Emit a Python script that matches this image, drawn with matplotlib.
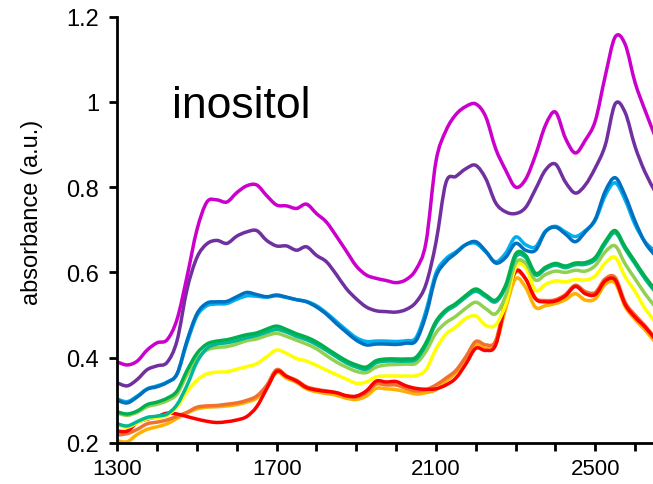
import matplotlib
matplotlib.use("Agg")
import matplotlib.pyplot as plt
from matplotlib.path import Path
from matplotlib.patches import PathPatch
import numpy as np

plt.rcParams['font.family'] = ['Liberation Sans', 'DejaVu Sans']

wavelength = list(range(1300, 2651, 25))

magenta = [0.390, 0.383, 0.392, 0.418, 0.435, 0.442, 0.490, 0.590, 0.700, 0.765,
           0.770, 0.765, 0.787, 0.803, 0.805, 0.780, 0.758, 0.756, 0.750, 0.760,
           0.738, 0.718, 0.685, 0.650, 0.615, 0.594, 0.586, 0.581, 0.576, 0.583,
           0.607, 0.670, 0.860, 0.932, 0.970, 0.989, 0.995, 0.965, 0.890, 0.840,
           0.800, 0.818, 0.875, 0.945, 0.976, 0.915, 0.880, 0.910, 0.955, 1.060,
           1.152, 1.135, 1.045, 0.980, 0.920]
purple = [0.341, 0.334, 0.349, 0.372, 0.381, 0.389, 0.440, 0.560, 0.635, 0.667,
          0.675, 0.668, 0.685, 0.695, 0.698, 0.675, 0.662, 0.662, 0.652, 0.660,
          0.640, 0.625, 0.595, 0.562, 0.538, 0.519, 0.510, 0.508, 0.507, 0.513,
          0.530, 0.572, 0.670, 0.810, 0.825, 0.843, 0.851, 0.820, 0.763, 0.742,
          0.738, 0.752, 0.795, 0.840, 0.854, 0.812, 0.786, 0.805, 0.845, 0.898,
          0.995, 0.975, 0.895, 0.835, 0.790]
dark_blue = [0.300, 0.294, 0.308, 0.326, 0.332, 0.342, 0.362, 0.440, 0.503, 0.528,
             0.531, 0.532, 0.543, 0.553, 0.548, 0.543, 0.547, 0.542, 0.536, 0.531,
             0.519, 0.502, 0.480, 0.460, 0.441, 0.430, 0.432, 0.432, 0.431, 0.434,
             0.440, 0.500, 0.590, 0.625, 0.645, 0.665, 0.672, 0.650, 0.622, 0.635,
             0.668, 0.652, 0.652, 0.695, 0.706, 0.690, 0.672, 0.695, 0.725, 0.790,
             0.822, 0.780, 0.720, 0.670, 0.640]
light_blue = [0.303, 0.297, 0.310, 0.327, 0.334, 0.343, 0.362, 0.435, 0.498, 0.522,
              0.526, 0.527, 0.537, 0.545, 0.544, 0.542, 0.545, 0.541, 0.536, 0.532,
              0.522, 0.505, 0.485, 0.465, 0.447, 0.438, 0.439, 0.439, 0.438, 0.440,
              0.447, 0.510, 0.598, 0.632, 0.648, 0.665, 0.668, 0.648, 0.625, 0.645,
              0.683, 0.665, 0.660, 0.697, 0.708, 0.695, 0.684, 0.698, 0.722, 0.780,
              0.810, 0.770, 0.712, 0.672, 0.650]
green = [0.273, 0.268, 0.275, 0.290, 0.296, 0.305, 0.322, 0.370, 0.410, 0.432,
         0.439, 0.442, 0.448, 0.454, 0.458, 0.467, 0.474, 0.466, 0.456, 0.448,
         0.437, 0.422, 0.407, 0.393, 0.383, 0.378, 0.393, 0.397, 0.397, 0.397,
         0.401, 0.435, 0.485, 0.512, 0.527, 0.546, 0.561, 0.547, 0.535, 0.570,
         0.643, 0.640, 0.598, 0.612, 0.621, 0.615, 0.622, 0.623, 0.635, 0.672,
         0.698, 0.660, 0.625, 0.590, 0.560]
teal = [0.245, 0.240, 0.250, 0.260, 0.263, 0.268, 0.290, 0.335, 0.390, 0.422,
        0.432, 0.435, 0.440, 0.447, 0.452, 0.460, 0.466, 0.460, 0.450, 0.442,
        0.431, 0.417, 0.402, 0.388, 0.378, 0.373, 0.388, 0.392, 0.392, 0.392,
        0.396, 0.430, 0.480, 0.508, 0.523, 0.542, 0.556, 0.543, 0.531, 0.566,
        0.636, 0.635, 0.594, 0.608, 0.617, 0.611, 0.618, 0.619, 0.630, 0.667,
        0.693, 0.655, 0.620, 0.585, 0.555]
light_green = [0.270, 0.265, 0.272, 0.285, 0.291, 0.299, 0.315, 0.360, 0.398, 0.418,
               0.424, 0.426, 0.432, 0.440, 0.444, 0.452, 0.457, 0.450, 0.441, 0.432,
               0.421, 0.405, 0.390, 0.378, 0.368, 0.365, 0.378, 0.383, 0.384, 0.385,
               0.387, 0.415, 0.458, 0.482, 0.497, 0.516, 0.530, 0.515, 0.503, 0.545,
               0.622, 0.622, 0.582, 0.595, 0.603, 0.600, 0.605, 0.603, 0.616, 0.648,
               0.662, 0.620, 0.585, 0.550, 0.520]
yellow = [0.242, 0.237, 0.247, 0.257, 0.260, 0.265, 0.285, 0.320, 0.347, 0.362,
          0.366, 0.367, 0.373, 0.379, 0.386, 0.402, 0.418, 0.410, 0.398, 0.392,
          0.382, 0.371, 0.360, 0.350, 0.340, 0.343, 0.355, 0.357, 0.357, 0.357,
          0.358, 0.372, 0.420, 0.455, 0.472, 0.492, 0.498, 0.476, 0.477, 0.525,
          0.612, 0.612, 0.558, 0.572, 0.580, 0.578, 0.583, 0.582, 0.592, 0.622,
          0.635, 0.590, 0.555, 0.515, 0.485]
red = [0.228, 0.228, 0.248, 0.256, 0.262, 0.270, 0.268, 0.262, 0.256, 0.251,
       0.248, 0.250, 0.254, 0.262, 0.285, 0.327, 0.368, 0.356, 0.345, 0.330,
       0.324, 0.321, 0.318, 0.311, 0.310, 0.322, 0.345, 0.343, 0.344, 0.334,
       0.328, 0.326, 0.327, 0.336, 0.352, 0.385, 0.422, 0.417, 0.430, 0.530,
       0.603, 0.585, 0.538, 0.531, 0.533, 0.545, 0.567, 0.550, 0.548, 0.580,
       0.582, 0.525, 0.495, 0.472, 0.444]
orange_red = [0.219, 0.222, 0.232, 0.245, 0.249, 0.254, 0.263, 0.272, 0.284, 0.287,
              0.288, 0.291, 0.294, 0.300, 0.310, 0.335, 0.372, 0.357, 0.347, 0.332,
              0.326, 0.322, 0.318, 0.310, 0.308, 0.318, 0.338, 0.336, 0.336, 0.328,
              0.322, 0.325, 0.336, 0.352, 0.370, 0.402, 0.438, 0.430, 0.440, 0.535,
              0.600, 0.585, 0.540, 0.534, 0.536, 0.548, 0.570, 0.555, 0.553, 0.585,
              0.588, 0.530, 0.500, 0.475, 0.446]
orange = [0.205, 0.203, 0.220, 0.232, 0.238, 0.245, 0.258, 0.270, 0.280, 0.284,
          0.285, 0.287, 0.290, 0.296, 0.305, 0.330, 0.365, 0.352, 0.342, 0.327,
          0.320, 0.316, 0.312, 0.305, 0.302, 0.310, 0.328, 0.327, 0.325, 0.320,
          0.315, 0.318, 0.325, 0.345, 0.365, 0.398, 0.430, 0.422, 0.432, 0.515,
          0.585, 0.565, 0.518, 0.522, 0.527, 0.536, 0.550, 0.535, 0.538, 0.572,
          0.575, 0.520, 0.490, 0.465, 0.437]

series = [
    (orange, '#FFB000'),
    (orange_red, '#F07030'),
    (red, '#FF0000'),
    (yellow, '#FFFF00'),
    (light_green, '#92D050'),
    (teal, '#00B894'),
    (green, '#00B050'),
    (light_blue, '#00B0F0'),
    (dark_blue, '#0070C0'),
    (purple, '#7030A0'),
    (magenta, '#CC00CC'),
]


def smooth_path(xs, ys):
    """Excel-style smoothed line: cubic Bezier segments through the data points."""
    xs = np.asarray(xs, float)
    ys = np.asarray(ys, float)
    n = len(xs)
    verts = [(xs[0], ys[0])]
    codes = [Path.MOVETO]
    for i in range(n - 1):
        i0 = max(i - 1, 0)
        i3 = min(i + 2, n - 1)
        c1 = (xs[i] + (xs[i + 1] - xs[i0]) / 6.0, ys[i] + (ys[i + 1] - ys[i0]) / 6.0)
        c2 = (xs[i + 1] - (xs[i3] - xs[i]) / 6.0, ys[i + 1] - (ys[i3] - ys[i]) / 6.0)
        verts += [c1, c2, (xs[i + 1], ys[i + 1])]
        codes += [Path.CURVE4] * 3
    return Path(verts, codes)


fig = plt.figure(figsize=(6.53, 4.85), dpi=100)
ax = fig.add_axes([117.3 / 653, 41 / 485, (653 - 117.3) / 653, (444 - 17.5) / 485])

for vals, col in series:
    patch = PathPatch(smooth_path(wavelength, vals), facecolor='none',
                      edgecolor=col, lw=2.5, capstyle='round', joinstyle='round')
    ax.add_patch(patch)

ax.set_xlim(1300, 2645)
ax.set_ylim(0.2, 1.2)
ax.set_xticks([1300, 1700, 2100, 2500])
ax.set_xticks(list(range(1300, 2645, 100)), minor=True)
ax.set_yticks([0.2, 0.4, 0.6, 0.8, 1.0, 1.2])
ax.set_yticklabels(['0.2', '0.4', '0.6', '0.8', '1', '1.2'])
ax.spines['top'].set_visible(False)
ax.spines['right'].set_visible(False)
for s in ('left', 'bottom'):
    ax.spines[s].set_linewidth(2)
ax.tick_params(axis='both', which='both', direction='out', width=2, length=6,
               labelsize=17, color='black')
ax.tick_params(axis='x', labelsize=16, pad=5)
ax.tick_params(axis='y', pad=7)

ax.set_ylabel('absorbance (a.u.)', fontsize=17)
ax.yaxis.set_label_coords((43 - 117.3) / 535.7, (444 - 212) / 426.5)

ax.text(1437, 0.964, 'inositol', fontsize=32, va='baseline', ha='left')

fig.savefig('out.png', dpi=100)
